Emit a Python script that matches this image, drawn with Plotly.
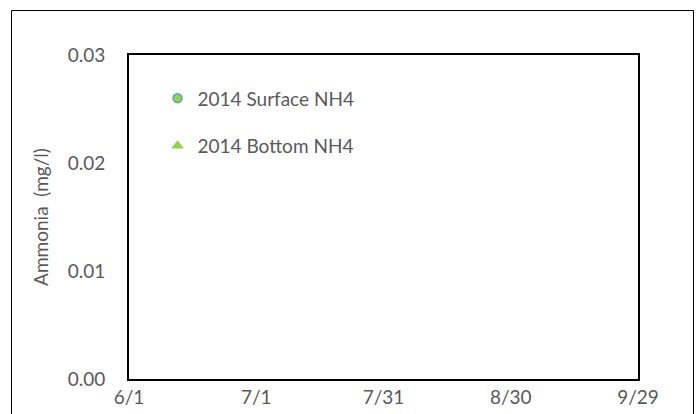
import plotly.graph_objects as go

# Data (chart shows no plotted observations, only legend entries)
surface_dates = [None]
surface_nh4 = [None]
bottom_dates = [None]
bottom_nh4 = [None]

x_tick_vals = ["2014-06-01", "2014-07-01", "2014-07-31", "2014-08-30", "2014-09-29"]
x_tick_text = ["6/1", "7/1", "7/31", "8/30", "9/29"]
y_tick_vals = [0.0, 0.01, 0.02, 0.03]
y_tick_text = ["0.00", "0.01", "0.02", "0.03"]

FONT = "Lato"
GREY = "#595959"
FS = 19

fig = go.Figure()
fig.add_trace(go.Scatter(
    x=surface_dates, y=surface_nh4, mode="markers", name="2014 Surface NH4",
    legendgroup="a",
    marker=dict(symbol="circle", size=9, color="#92D050",
                line=dict(color="#5B9BD5", width=1.5)),
))
fig.add_trace(go.Scatter(
    x=bottom_dates, y=bottom_nh4, mode="markers", name="2014 Bottom NH4",
    legendgroup="b",
    marker=dict(symbol="triangle-up", size=11, color="#92D050",
                line=dict(color="#92D050", width=0)),
))

W, H = 697, 414
L, R, T, B = 129, 638, 55, 379
pw, ph = R - L, B - T

fig.update_layout(
    width=W, height=H,
    margin=dict(l=L, r=W - R, t=T, b=H - B, pad=0, autoexpand=False),
    paper_bgcolor="white", plot_bgcolor="white",
    font=dict(family=FONT, size=FS, color=GREY),
    showlegend=True,
    legend=dict(x=0.056, y=0.925, xanchor="left", yanchor="top",
                bgcolor="rgba(0,0,0,0)", tracegroupgap=20,
                font=dict(family=FONT, size=FS, color=GREY),
                itemwidth=30),
    xaxis=dict(type="date", range=["2014-06-01", "2014-09-29"],
               tickvals=x_tick_vals, ticktext=x_tick_text, automargin=False,
               showgrid=False, zeroline=False, showline=True, mirror=True,
               linecolor="black", linewidth=2, ticks="", ticklabelstandoff=0,
               tickfont=dict(family=FONT, size=FS, color=GREY)),
    yaxis=dict(range=[0, 0.03], tickvals=y_tick_vals, ticktext=y_tick_text,
               automargin=False,
               showgrid=False, zeroline=False, showline=True, mirror=True,
               linecolor="black", linewidth=2, ticks="", ticklabelstandoff=18,
               title=dict(text="Ammonia  (mg/l)", standoff=14,
                          font=dict(family=FONT, size=FS, color=GREY)),
               tickfont=dict(family=FONT, size=FS, color=GREY)),
    shapes=[dict(type="rect", xref="paper", yref="paper",
                 x0=(11.5 - L) / pw, x1=(693.5 - L) / pw,
                 y0=(B - 420) / ph, y1=(B - 10.5) / ph,
                 line=dict(color="black", width=1), fillcolor="rgba(0,0,0,0)",
                 layer="below")],
)

fig.write_html("out.html", config={"displayModeBar": False},
               post_script="document.body.style.margin='0';")
